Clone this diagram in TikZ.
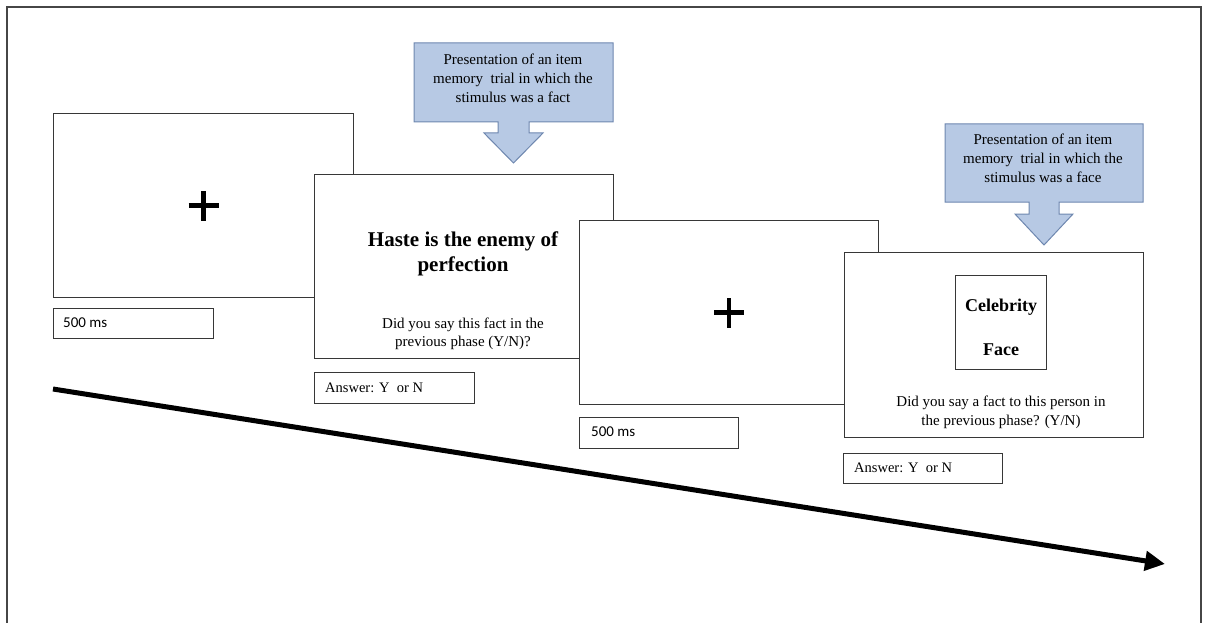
\documentclass[tikz,border=0pt]{standalone}
\usepackage{fontspec}
\setmainfont{Liberation Serif}
\newfontfamily\calfont{Carlito}
\usetikzlibrary{arrows.meta}
\definecolor{linec}{RGB}{55,55,55}
\definecolor{frameline}{RGB}{70,70,70}
\definecolor{callfill}{RGB}{183,201,228}
\definecolor{callline}{RGB}{110,135,175}
\tikzset{
  screen/.style={draw=linec, line width=1.1pt, fill=white, inner sep=0pt, anchor=north west},
  labelbox/.style={draw=linec, line width=1.1pt, fill=white, inner sep=0pt, anchor=north west},
  callout/.style={draw=callline, line width=1pt, fill=callfill},
  calltext/.style={align=center, font=\fontsize{15}{19}\selectfont, inner sep=0pt},
  qtext/.style={align=center, font=\fontsize{15}{18.5}\selectfont, inner sep=0pt},
  anstext/.style={anchor=west, font=\fontsize{14.5}{17}\selectfont, inner sep=0pt},
  mstext/.style={anchor=west, font=\calfont\fontsize{15}{17}\selectfont, inner sep=0pt},
  plusline/.style={line width=4.5pt, black},
  timeline/.style={line width=5pt, black, -{Triangle[length=20pt,width=19pt]}}
}
\begin{document}
\begin{tikzpicture}[x=1pt,y=-1pt]
\useasboundingbox (0,0) rectangle (1208,623);
% outer frame (open at bottom)
\draw[frameline, line width=1.3pt] (7,630) -- (7,7) -- (1201,7) -- (1201,630);

% screen 1: fixation
\node[screen, minimum width=300, minimum height=184] (s1) at (53,113) {};
\draw[plusline] ([xshift=-15pt]s1.center) -- ([xshift=15pt]s1.center);
\draw[plusline] ([yshift=-15pt]s1.center) -- ([yshift=15pt]s1.center);
\node[labelbox, minimum width=160, minimum height=30] (l1) at (53,308) {};
\node[mstext] (t1) at (63,323) {500 ms};

% screen 2: fact
\node[screen, minimum width=299, minimum height=184] (s2) at (314,174) {};
\node[align=center, font=\bfseries\fontsize{21}{25}\selectfont, inner sep=0pt] (fact) at (463,254) {Haste is the enemy of\\perfection};
\node[qtext] (q2) at (463,334) {Did you say this fact in the\\previous phase (Y/N)?};
\node[labelbox, minimum width=160, minimum height=31] (l2) at (314,372) {};
\node[anstext] (t2) at (325,388) {Answer: Y\ \ or N};

% callout 1
\path[callout] (414,43) -- (613,43) -- (613,122) -- (529,122) -- (529,133) -- (543,133)
  -- (513.5,163) -- (484,133) -- (498,133) -- (498,122) -- (414,122) -- cycle;
\node[calltext] (c1) at (513,78) {Presentation of an item\\memory\ \ trial in which the\\stimulus was a fact};

% screen 3: fixation
\node[screen, minimum width=299, minimum height=184] (s3) at (579,220) {};
\draw[plusline] ([xshift=-15pt]s3.center) -- ([xshift=15pt]s3.center);
\draw[plusline] ([yshift=-15pt]s3.center) -- ([yshift=15pt]s3.center);
\node[labelbox, minimum width=159, minimum height=31] (l3) at (579,417) {};
\node[mstext] (t3) at (591,432) {500 ms};

% screen 4: face
\node[screen, minimum width=299, minimum height=185] (s4) at (844,252) {};
\node[draw=linec, line width=1.1pt, fill=white, inner sep=0pt, anchor=north west,
      minimum width=91, minimum height=94] (facebox) at (955,275) {};
\node[font=\bfseries\fontsize{18}{20}\selectfont, inner sep=0pt] (cel) at (1001,307) {Celebrity};
\node[font=\bfseries\fontsize{18}{20}\selectfont, inner sep=0pt] (fac) at (1001,350) {Face};
\node[qtext] (q4) at (1001,412.5) {Did you say a fact to this person in\\the previous phase? (Y/N)};
\node[labelbox, minimum width=159, minimum height=30] (l4) at (843,453) {};
\node[anstext] (t4) at (854,468) {Answer: Y\ \ or N};

% callout 2
\path[callout] (945,124) -- (1143,124) -- (1143,202) -- (1059,202) -- (1059,214) -- (1073,214)
  -- (1044,245) -- (1015,214) -- (1029,214) -- (1029,202) -- (945,202) -- cycle;
\node[calltext] (c2) at (1043,158) {Presentation of an item\\memory\ \ trial in which the\\stimulus was a face};

% time arrow
\coordinate (tstart) at (53,389);
\coordinate (tend) at (1165,564);
\draw[timeline] (tstart) -- (tend);
\end{tikzpicture}
\end{document}
